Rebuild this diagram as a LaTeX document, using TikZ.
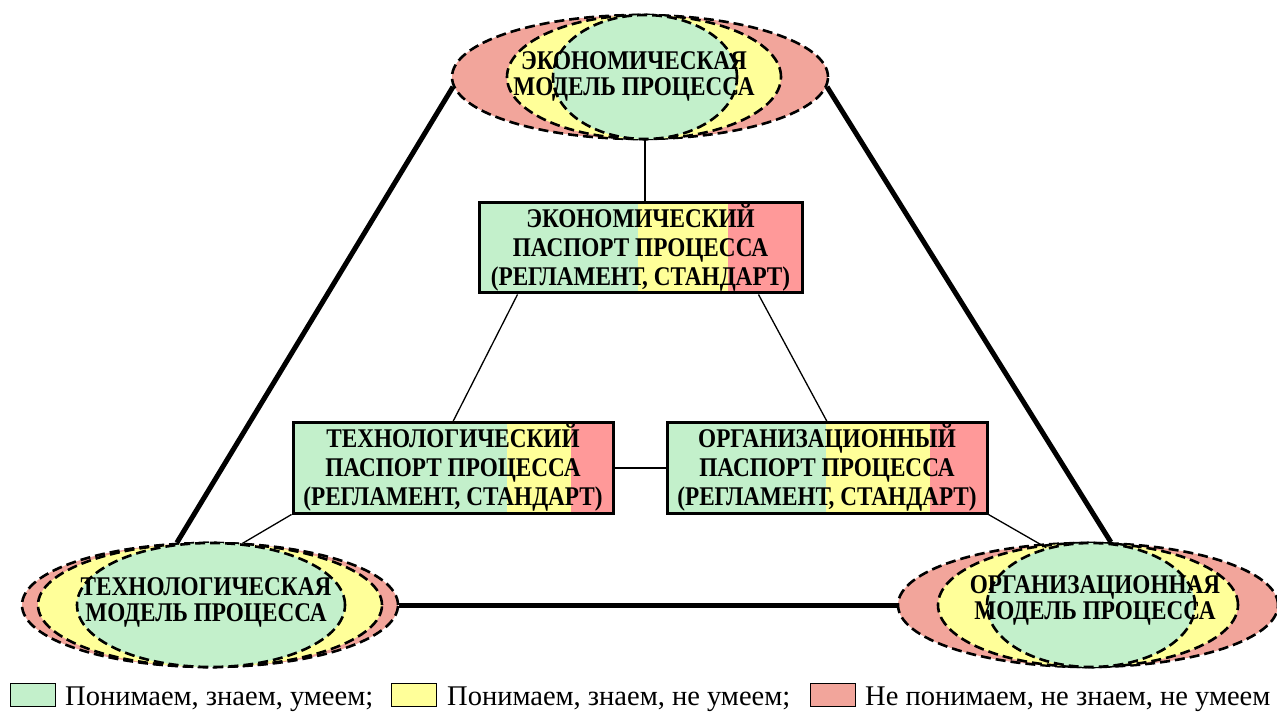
\documentclass[tikz,border=0pt]{standalone}
\usepackage{fontspec}
\setmainfont{Liberation Serif}
\newfontfamily\cond[FakeStretch=0.86]{Liberation Serif}
\usetikzlibrary{shapes.geometric,calc}
\definecolor{cg}{RGB}{195,240,203}
\definecolor{cy}{RGB}{255,255,153}
\definecolor{cr}{RGB}{242,165,155}
\definecolor{cbr}{RGB}{255,153,153}
\begin{document}
\begin{tikzpicture}[x=1pt,y=1pt,
  ell/.style={ellipse, draw, dash pattern=on 10pt off 5pt, line width=2.6pt, inner sep=0pt, minimum height=124pt},
  etext/.style={align=center, inner sep=0pt, font=\cond\bfseries\fontsize{27}{26}\selectfont},
  box/.style={rectangle, draw, line width=3pt, minimum width=320pt, minimum height=90pt, inner sep=0pt, align=center, font=\cond\bfseries\fontsize{27}{29}\selectfont},
  thickline/.style={line width=5pt},
  thinline/.style={line width=1.3pt},
  legbox/.style={rectangle, draw, line width=1pt, minimum width=45pt, minimum height=23pt, inner sep=0pt},
  legtext/.style={anchor=base west, inner sep=0pt, font=\fontsize{28.5}{30}\selectfont}
]
\useasboundingbox (0,0) rectangle (1277,713);

% box fills
\fill[cg] (479,420) rectangle (638,510);
\fill[cy] (638,420) rectangle (728,510);
\fill[cbr] (728,420) rectangle (802,510);
\fill[cg] (293,200) rectangle (507,290);
\fill[cy] (507,200) rectangle (571,290);
\fill[cbr] (571,200) rectangle (613,290);
\fill[cg] (667,200) rectangle (826,290);
\fill[cy] (826,200) rectangle (930,290);
\fill[cbr] (930,200) rectangle (987,290);

% boxes
\node[box, minimum width=323pt] (bTop) at (640.5,465) {ЭКОНОМИЧЕСКИЙ\\ПАСПОРТ ПРОЦЕССА\\(РЕГЛАМЕНТ, СТАНДАРТ)};
\node[box] (bTL) at (453,245) {ТЕХНОЛОГИЧЕСКИЙ\\ПАСПОРТ ПРОЦЕССА\\(РЕГЛАМЕНТ, СТАНДАРТ)};
\node[box] (bTR) at (827,245) {ОРГАНИЗАЦИОННЫЙ\\ПАСПОРТ ПРОЦЕССА\\(РЕГЛАМЕНТ, СТАНДАРТ)};

% ellipse outlines used as anchors
\path (640,636) node[ell, draw=none, minimum width=376pt] (eTop) {};
\path (210,108) node[ell, draw=none, minimum width=376pt] (eBL) {};
\path (1088,108) node[ell, draw=none, minimum width=380pt] (eBR) {};

% thick connectors (behind ellipses)
\draw[thickline] (eTop.183) -- (eBL.118);
\draw[thickline] (eTop.-3) -- (eBR.70);
\draw[thickline] (eBL.east) -- (eBR.west);

% ellipses
\node[ell, fill=cr, minimum width=376pt] at (eTop.center) {};
\node[ell, fill=cy, minimum width=274pt] (eTopY) at (644,636) {};
\node[ell, fill=cg, minimum width=184pt] (eTopG) at (645,636) {};
\node[ell, fill=cr, minimum width=376pt] at (eBL.center) {};
\node[ell, fill=cy, minimum width=344pt] (eBLY) at (210,108) {};
\node[ell, fill=cg, minimum width=268pt] (eBLG) at (211,108) {};
\node[ell, fill=cr, minimum width=380pt] at (eBR.center) {};
\node[ell, fill=cy, minimum width=300pt] (eBRY) at (1088,108) {};
\node[ell, fill=cg, minimum width=208pt] (eBRG) at (1091,108) {};

% ellipse texts
\node[etext] (tTop) at (634,637) {ЭКОНОМИЧЕСКАЯ\\МОДЕЛЬ ПРОЦЕССА};
\node[etext] (tBL) at (206,111) {ТЕХНОЛОГИЧЕСКАЯ\\МОДЕЛЬ ПРОЦЕССА};
\node[etext] (tBR) at (1095,113) {ОРГАНИЗАЦИОННАЯ\\МОДЕЛЬ ПРОЦЕССА};

% thin connectors
\draw[thinline] (eTopG.south) -- (eTopG.south |- bTop.north);
\draw[thinline] ($(bTop.south west)+(40,0)$) -- (bTL.north);
\draw[thinline] ($(bTop.south east)+(-45,0)$) -- (bTR.north);
\draw[thinline] (bTL.east) -- (bTR.west);
\draw[thinline] (bTL.south west) -- (eBLG.63);
\draw[thinline] (bTR.south east) -- (eBRG.128);

% legend
\node[legbox, fill=cg] (l1) at (32.5,18.5) {};
\node[legtext] (t1) at (65,8) {Понимаем, знаем, умеем;};
\node[legbox, fill=cy] (l2) at (413.5,18.5) {};
\node[legtext] (t2) at (447,8) {Понимаем, знаем, не умеем;};
\node[legbox, fill=cr] (l3) at (832.5,18.5) {};
\node[legtext] (t3) at (865,8) {Не понимаем, не знаем, не умеем};
\end{tikzpicture}
\end{document}
